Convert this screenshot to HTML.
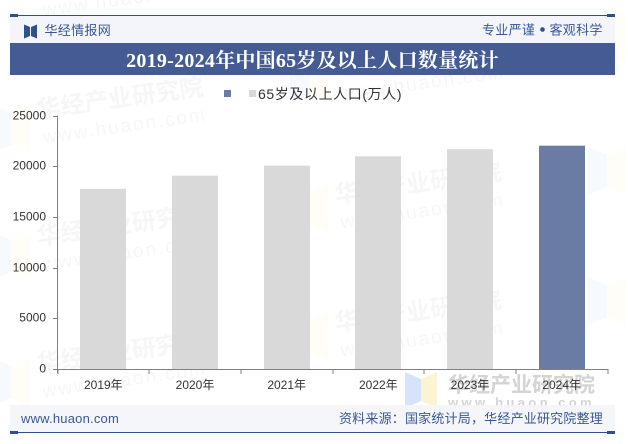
<!DOCTYPE html>
<html lang="zh">
<head>
<meta charset="utf-8">
<title>2019-2024年中国65岁及以上人口数量统计</title>
<style>
html,body{margin:0;padding:0;background:#fff;overflow:hidden}
#page{position:relative;width:628px;height:444px;overflow:hidden;background:#fff;font-family:"Liberation Sans","Noto Sans CJK SC",sans-serif}
svg{position:absolute;left:0;top:0;overflow:hidden}
</style>
</head>
<body>
<div id="page">
<svg id="chart" width="628" height="444" viewBox="0 0 628 444" xmlns="http://www.w3.org/2000/svg">
  <g id="watermarks"></g>

  <rect x="10" y="16" width="605" height="27" fill="#f3f5fa"/>
  <rect x="10" y="15" width="598" height="1" fill="#2f4f8f"/>
  <rect x="10" y="14" width="8" height="3" fill="#2f4f8f"/>
  <rect x="607" y="14" width="8" height="3" fill="#2f4f8f"/>
  <path d="M24 24.5l6 2.5v9l-6 2.500zM37 24.5l-6 2.5v9l6 2.500z" fill="#2f4f8f"/>
  <text x="44.500" y="35" font-size="13" letter-spacing="0.3" fill="#3a5895">华经情报网</text>
  <text x="482" y="34.500" font-size="13" letter-spacing="0.3" fill="#3a5895">专业严谨</text>
  <circle cx="542.500" cy="29.500" r="2.300" fill="#2f4f8f"/>
  <text x="549.500" y="34.500" font-size="13" letter-spacing="0.3" fill="#3a5895">客观科学</text>

  <rect x="10" y="43" width="605" height="32" fill="#445c93"/>
  <text x="312.500" y="67" text-anchor="middle" font-size="20" letter-spacing="0.25" font-weight="700" fill="#fff" font-family="'Liberation Serif','Noto Serif CJK SC',serif">2019-2024年中国65岁及以上人口数量统计</text>

  <rect x="224" y="90" width="7" height="7" fill="#6a7ca3"/>
  <rect x="249" y="90" width="7" height="7" fill="#d9d9d9"/>
  <text x="258" y="99" font-size="14" letter-spacing="0.6" fill="#333">65岁及以上人口(万人)</text>

  <g id="bars"></g>
  <g id="axes"></g>

  <rect x="10" y="405" width="605" height="27" fill="#f3f5fa" fill-opacity="0.9"/>
  <rect x="10" y="432" width="598" height="1" fill="#2f4f8f"/>
  <rect x="10" y="431" width="8" height="3" fill="#2f4f8f"/>
  <rect x="607" y="431" width="8" height="3" fill="#2f4f8f"/>
  <a><text x="21" y="423" font-size="13" letter-spacing="0.2" fill="#3a5895">www.huaon.com</text></a>
  <text x="603" y="423" text-anchor="end" font-size="13" letter-spacing="0.2" fill="#3a5895">资料来源：国家统计局，华经产业研究院整理</text>
</svg>
</div>
<script>
const categories = ['2019年', '2020年', '2021年', '2022年', '2023年', '2024年'];
const population = [17767, 19064, 20056, 20978, 21676, 22023];
const yTicks = [0, 5000, 10000, 15000, 20000, 25000];
const highlightIndex = 5;

const NS = 'http://www.w3.org/2000/svg';
const plot = { left: 57.5, right: 607.5, top: 115.5, bottom: 369 };
const yMax = 25000;
const barWidth = 46;

function yScale(v) {
  return plot.bottom - (v / yMax) * (plot.bottom - plot.top);
}
function xBand() {
  return (plot.right - plot.left) / categories.length;
}
function xCenter(i) {
  return plot.left + xBand() * (i + 0.5);
}
function make(tag, attrs, parent) {
  const el = document.createElementNS(NS, tag);
  Object.keys(attrs).forEach(function (k) { el.setAttribute(k, attrs[k]); });
  parent.appendChild(el);
  return el;
}

const barsGroup = document.getElementById('bars');
population.forEach(function (v, i) {
  const bar = make('rect', {
    x: Math.round(xCenter(i) - barWidth / 2),
    y: yScale(v),
    width: barWidth,
    height: plot.bottom - yScale(v),
    fill: i === highlightIndex ? '#6a7ca3' : '#d9d9d9'
  }, barsGroup);
  
  
});

const axesGroup = document.getElementById('axes');
const yAxisLine = make('line', { x1: plot.left, x2: plot.left, y1: plot.top, y2: plot.bottom + 4, stroke: '#808080', 'stroke-width': 1 }, axesGroup);


const xAxisLine = make('line', { x1: plot.left, x2: plot.right, y1: plot.bottom + 0.5, y2: plot.bottom + 0.5, stroke: '#808080', 'stroke-width': 1 }, axesGroup);



yTicks.forEach(function (t) {
  const y = Math.round(yScale(t)) + 0.5;
  const tick = make('line', { x1: plot.left - 4.5, x2: plot.left, y1: y, y2: y, stroke: '#808080', 'stroke-width': 1 }, axesGroup);
  
  
  const label = make('text', { x: 46, y: y + 3, 'text-anchor': 'end', 'font-size': 12, fill: '#333' }, axesGroup);
  label.textContent = String(t);
  
  
});

for (let i = 0; i <= categories.length; i++) {
  const x = Math.round(plot.left + xBand() * i);
  const tick = make('line', { x1: x, x2: x, y1: plot.bottom, y2: plot.bottom + 5, stroke: '#808080', 'stroke-width': 1 }, axesGroup);
  
  
}
categories.forEach(function (c, i) {
  const label = make('text', { x: xCenter(i), y: 389, 'text-anchor': 'middle', 'font-size': 12, fill: '#333' }, axesGroup);
  label.textContent = c;
  
  
});

const wm = document.getElementById('watermarks');
const logoAnchors = [
  [-8, 105], [-8, 232], [-8, 358], [290, 55], [290, 184], [290, 312], [588, 147], [588, 277], [588, 15]
];
logoAnchors.forEach(function (p) {
  const g = make('g', { transform: 'translate(' + p[0] + ' ' + p[1] + ')' }, wm);
  
  
  make('path', { d: 'M0 0l19 8v32l-19 8z', fill: '#f6f9fe' }, g);
  make('path', { d: 'M38 0l-19 8v32l19 8z', fill: '#fffef6' }, g);
});

const wmAnchors = [
  [38, -9], [38, 118], [38, 245], [38, 372], [336, 75], [336, 203], [336, 331]
];
wmAnchors.forEach(function (p) {
  const g = make('g', { transform: 'translate(' + p[0] + ' ' + p[1] + ') rotate(-8)', opacity: 0.04 }, wm);
  
  
  const t1 = make('text', { x: 0, y: 0, 'font-size': 24, 'font-weight': 700, fill: '#333' }, g);
  t1.textContent = '华经产业研究院';
  const t2 = make('text', { x: 2, y: 26, 'font-size': 19, fill: '#333', 'letter-spacing': 2 }, g);
  t2.textContent = 'www.huaon.com';
});

const wmFlat = make('g', {}, wm);


make('path', { d: 'M405 372l16 7v22l-16 7z', fill: '#d6e4fb' }, wmFlat);
make('path', { d: 'M437 372l-16 7v22l16 7z', fill: '#fbf3d2' }, wmFlat);
const wmT1 = make('text', { x: 448, y: 392, 'font-size': 21, 'font-weight': 700, fill: '#d4d4d4' }, wmFlat);
wmT1.textContent = '华经产业研究院';
const wmT2 = make('text', { x: 448, y: 407, 'font-size': 13, 'font-weight': 700, fill: '#d4d4d4', 'letter-spacing': 3.4 }, wmFlat);
wmT2.textContent = 'www.huaon.com';
</script>
</body>
</html>
